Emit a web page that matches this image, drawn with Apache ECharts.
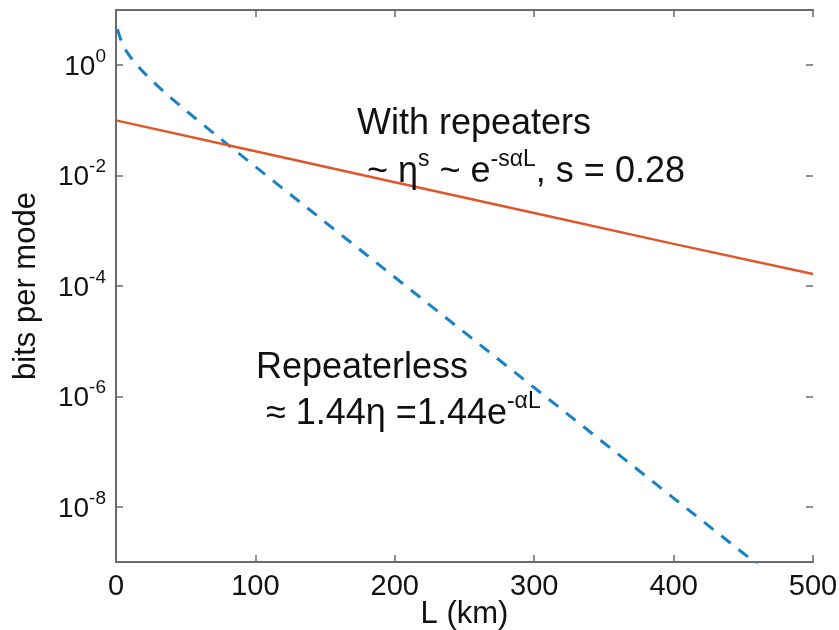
<!DOCTYPE html>
<html><head><meta charset="utf-8">
<script src="https://cdn.jsdelivr.net/npm/echarts@6/dist/echarts.min.js"></script>
<style>html,body{margin:0;padding:0;background:#fff}#c{width:839px;height:630px}</style>
</head><body><div id="c"></div>
<script>
// Repeaterless bound (blue dashed)
const repeaterlessL = [1, 3, 5, 8, 12, 16, 20, 25, 30, 40, 50, 60, 80, 100, 150, 200, 300, 400, 460];
const repeaterlessBits = [4.5, 3.1, 2.28, 1.70, 1.23, 0.94, 0.733, 0.548, 0.417, 0.248, 0.152, 0.094, 0.0367, 0.0145, 0.00144, 1.44e-4, 1.44e-6, 1.44e-8, 9.1e-10];
// With repeaters (red solid)
const repeaterL = [0, 100, 200, 300, 400, 500];
const repeaterBits = [0.1, 0.0276, 0.0076, 0.0021, 5.8e-4, 1.65e-4];
// Tick labels
const xTicks = [0, 100, 200, 300, 400, 500];
const yTickExponents = [-8, -6, -4, -2, 0];   // labels 10^-8 ... 10^0
const yRange = [1e-9, 10];                     // plotted range of bits per mode

const FONT = "'Liberation Sans', Arial, Helvetica, sans-serif";
const AX = '#6b6b6b';
const TXT = '#111';

const chart = echarts.init(document.getElementById('c'), null, {renderer: 'canvas'});
const pairs = (xs, ys) => xs.map((x, i) => [x, ys[i]]);

// main plot box
const G = {left: 116, right: 26, top: 10, bottom: 68};
const plotH = 630 - G.top - G.bottom;
const decades = Math.log10(yRange[1]) - Math.log10(yRange[0]);
const decPx = plotH / decades;
// tick grids span exactly the labelled decades
const expMin = yTickExponents[0], expMax = yTickExponents[yTickExponents.length - 1];
const G2 = {
  left: G.left, right: G.right,
  top: G.top + (Math.log10(yRange[1]) - expMax) * decPx,
  bottom: G.bottom + (expMin - Math.log10(yRange[0])) * decPx
};
const gridOf = g => Object.assign({containLabel: false, outerBoundsMode: 'none'}, g);

const tickStyle = () => ({show: true, inside: true, length: 7, lineStyle: {color: AX, width: 1.5}});

const xBase = {
  type: 'value', min: xTicks[0], max: xTicks[xTicks.length - 1], interval: 100, gridIndex: 0,
  axisLine: {show: true, lineStyle: {color: AX, width: 2}},
  splitLine: {show: false}
};
const yLog = {
  type: 'log', logBase: 10, min: yRange[0], max: yRange[1], gridIndex: 0,
  axisLine: {show: true, lineStyle: {color: AX, width: 2}},
  axisTick: {show: false}, axisLabel: {show: false},
  splitLine: {show: false}, minorTick: {show: false}
};
const yExp = {
  type: 'value', min: expMin, max: expMax, interval: 2,
  axisLine: {show: false}, splitLine: {show: false}
};

const option = {
  backgroundColor: '#fff',
  animation: false,
  grid: [gridOf(G), gridOf(G2), gridOf(G2)],
  xAxis: [
    Object.assign({}, xBase, {
      position: 'bottom', axisTick: tickStyle(),
      axisLabel: {show: true, fontSize: 29, color: TXT, fontFamily: FONT, margin: 10},
      name: 'L (km)', nameLocation: 'middle', nameGap: 37, nameMoveOverlap: false,
      nameTextStyle: {fontSize: 31, color: TXT, fontFamily: FONT}
    }),
    Object.assign({}, xBase, {position: 'top', axisTick: tickStyle(), axisLabel: {show: false}}),
    {type: 'value', gridIndex: 1, min: 0, max: 1, show: false},
    {type: 'value', gridIndex: 2, min: 0, max: 1, show: false}
  ],
  yAxis: [
    Object.assign({}, yLog, {
      position: 'left',
      name: 'bits per mode', nameLocation: 'middle', nameGap: 74, nameMoveOverlap: false,
      nameTextStyle: {fontSize: 31, color: TXT, fontFamily: FONT}
    }),
    Object.assign({}, yLog, {position: 'right'}),
    // tick marks only (left and right), inside the box
    Object.assign({}, yExp, {gridIndex: 1, position: 'left', axisTick: tickStyle(), axisLabel: {show: false}}),
    Object.assign({}, yExp, {gridIndex: 1, position: 'right', axisTick: tickStyle(), axisLabel: {show: false}}),
    // labels only
    Object.assign({}, yExp, {
      gridIndex: 2, position: 'left', axisTick: {show: false},
      axisLabel: {
        show: true, margin: 10, color: TXT, fontFamily: FONT,
        formatter: function (v) { return '{b|10}{s|' + v + '}'; },
        rich: {
          b: {fontSize: 28, lineHeight: 36, padding: [4, 0, 0, 0], fontFamily: FONT, color: TXT},
          s: {fontSize: 19, lineHeight: 20, verticalAlign: 'top', fontFamily: FONT, color: TXT}
        }
      }
    })
  ],
  series: [
    {
      type: 'line', name: 'Repeaterless', xAxisIndex: 0, yAxisIndex: 0,
      data: pairs(repeaterlessL, repeaterlessBits), showSymbol: false, symbol: 'none',
      lineStyle: {color: '#1a82c4', width: 3, type: [12, 10]}, clip: true, z: 2
    },
    {
      type: 'line', name: 'With repeaters', xAxisIndex: 0, yAxisIndex: 0,
      data: pairs(repeaterL, repeaterBits), showSymbol: false, symbol: 'none',
      lineStyle: {color: '#e0562a', width: 2.5}, clip: true, z: 3
    }
  ],
  graphic: [
    {type: 'text', left: 357, top: 106, z: 10,
      style: {text: 'With repeaters', fontSize: 36, fontFamily: FONT, fill: TXT}},
    {type: 'text', left: 357, top: 148, z: 10,
      style: {
        text: '{n| ~ η}{s|s}{n| ~ e}{s|-sαL}{n|, s = 0.28}',
        fill: TXT,
        rich: {
          n: {fontSize: 36, lineHeight: 48, fontFamily: FONT, fill: TXT},
          s: {fontSize: 23, lineHeight: 24, verticalAlign: 'top', fontFamily: FONT, fill: TXT}
        }
      }},
    {type: 'text', left: 256, top: 350, z: 10,
      style: {text: 'Repeaterless', fontSize: 36, fontFamily: FONT, fill: TXT}},
    {type: 'text', left: 256, top: 390, z: 10,
      style: {
        text: '{n| ≈ 1.44η =1.44e}{s|-αL}',
        fill: TXT,
        rich: {
          n: {fontSize: 36, lineHeight: 48, fontFamily: FONT, fill: TXT},
          s: {fontSize: 23, lineHeight: 24, verticalAlign: 'top', fontFamily: FONT, fill: TXT}
        }
      }}
  ]
};
chart.setOption(option);
</script>
</body></html>
